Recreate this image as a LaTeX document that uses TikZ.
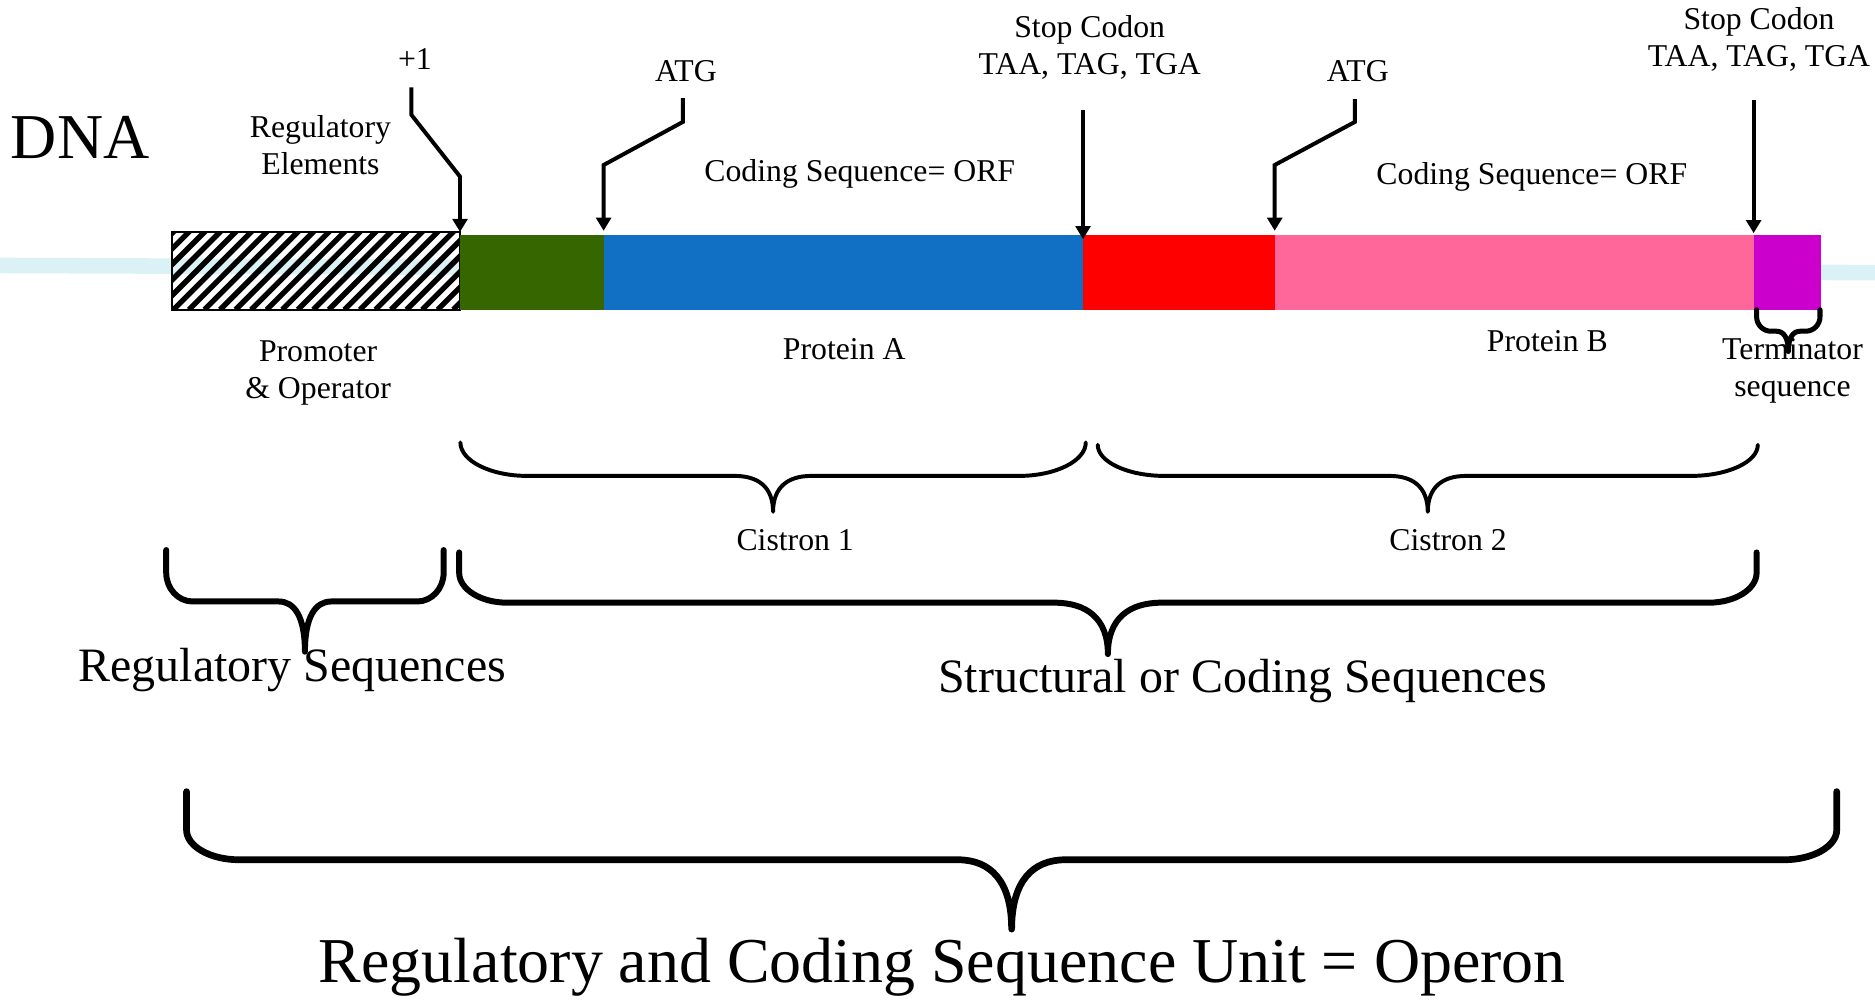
\documentclass[tikz,border=0pt]{standalone}
\usepackage{fontspec}
\setmainfont{Liberation Serif}
\usetikzlibrary{arrows.meta}

\definecolor{dnacyan}{RGB}{218,242,246}
\definecolor{leadgreen}{RGB}{53,102,0}
\definecolor{orfblue}{RGB}{17,112,196}
\definecolor{spacerred}{RGB}{255,0,0}
\definecolor{orfpink}{RGB}{255,102,153}
\definecolor{termmagenta}{RGB}{204,0,204}

\tikzset{
  lbl/.style={font=\fontsize{7.55pt}{8.8pt}\selectfont, inner sep=0pt, anchor=base, align=center},
  midlbl/.style={font=\fontsize{11.4pt}{13pt}\selectfont, inner sep=0pt, anchor=base},
  biglbl/.style={font=\fontsize{15.2pt}{18pt}\selectfont, inner sep=0pt, anchor=base},
  pointer/.style={line width=0.94pt, -{Triangle[length=3.1pt,width=3.5pt]}},
}

% curly brace: line width, x left, x right, y top, y bar, y tip, corner rx, corner ry, half width of the tip
\newcommand{\opbrace}[9]{%
  \pgfmathsetmacro{\bxc}{(#2+#3)/2}
  \pgfmathsetmacro{\bdp}{#6-#5}
  \draw[line width=#1, line cap=round, line join=round]
    (#2,#4) -- (#2,#5-#8) .. controls (#2,#5-0.45*#8) and (#2+0.45*#7,#5) .. (#2+#7,#5)
    -- (\bxc-#9,#5) .. controls (\bxc-0.4*#9,#5) and (\bxc,#5+0.3*\bdp) .. (\bxc,#6)
    .. controls (\bxc,#5+0.3*\bdp) and (\bxc+0.4*#9,#5) .. (\bxc+#9,#5)
    -- (#3-#7,#5) .. controls (#3-0.45*#7,#5) and (#3,#5-0.45*#8) .. (#3,#5-#8) -- (#3,#4);
}

\begin{document}
\begin{tikzpicture}[x=0.01cm, y=-0.01cm]
  \useasboundingbox (0,0) rectangle (1568,837);
  % DNA strand
  \draw[dnacyan, line width=0.13cm] (0,222) -- (1568,228);
  % Promoter box
  \begin{scope}
    \clip (143.8,194) rectangle (385,259);
    \foreach \i in {0,...,24}
      \draw[line width=0.045cm] (80+\i*13,259) -- ++(70,-70);
  \end{scope}
  \draw[line width=0.017cm] (143.8,194) rectangle (385,259);
  % Gene segments
  \foreach \xa/\xb/\c in {385/505/leadgreen, 505/906/orfblue, 906/1066/spacerred,
                          1066/1467/orfpink, 1467/1522.5/termmagenta}
    \fill[\c] (\xa,196.5) rectangle (\xb,259);
  \coordinate (start) at (384.7,194);
  \coordinate (atgA) at (504.8,193);
  \coordinate (stopA) at (905.7,200);
  \coordinate (atgB) at (1066,193);
  \coordinate (stopB) at (1466.5,195);
  % Labels above
  \node[biglbl] (dna) at (67,132.4) {DNA};
  \node[lbl] (plus) at (347,58.5) {+1};
  \node[lbl] (regel) at (268,146) {Regulatory\\Elements};
  \node[lbl] (atgAtxt) at (573.6,68.3) {ATG};
  \node[lbl] (orfA) at (719,152) {Coding Sequence= ORF};
  \node[lbl] (stopAtxt) at (911.3,62.7) {Stop Codon\\TAA, TAG, TGA};
  \node[lbl] (atgBtxt) at (1135.5,68.3) {ATG};
  \node[lbl] (orfB) at (1281,154.7) {Coding Sequence= ORF};
  \node[lbl] (stopBtxt) at (1471,55.8) {Stop Codon\\TAA, TAG, TGA};
  % Labels below
  \node[lbl] (prom) at (266,333) {Promoter\\\& Operator};
  \node[lbl] (protA) at (706,301) {Protein A};
  \node[lbl] (protB) at (1294,294) {Protein B};
  \node[lbl] (term) at (1499,331.7) {Terminator\\sequence};
  \node[lbl] (cisA) at (665,460) {Cistron 1};
  \node[lbl] (cisB) at (1211,460) {Cistron 2};
  \node[midlbl] (regseq) at (244.5,570) {Regulatory Sequences};
  \node[midlbl] (strseq) at (1039,579) {Structural or Coding Sequences};
  \node[biglbl] (operon) at (788,822) {Regulatory and Coding Sequence Unit = Operon};
  % Arrows
  \coordinate (plusT) at (344,73);
  \draw[pointer] (plusT) -- ++(0,23) -- ++(40.7,51.7) -- (start);
  \coordinate (atgAT) at (571,82);
  \draw[pointer] (atgAT) -- ++(0,20) -- ++(-66.2,36) -- (atgA);
  \coordinate (stopAT) at (905.7,92);
  \draw[pointer] (stopAT) -- (stopA);
  \coordinate (atgBT) at (1133,83);
  \draw[pointer] (atgBT) -- ++(0,19) -- ++(-67,36) -- (atgB);
  \coordinate (stopBT) at (1466.5,84);
  \draw[pointer] (stopBT) -- (stopB);
  % Braces
  \opbrace{0.042cm}{1469}{1522}{259}{277}{294}{12}{12}{10}
  \opbrace{0.033cm}{385}{908}{370}{398}{428}{56}{28}{32}
  \opbrace{0.033cm}{918}{1470}{372}{398}{428}{56}{26}{32}
  \opbrace{0.05cm}{139}{371}{460}{503}{545}{22}{24}{22}
  \opbrace{0.05cm}{384}{1469}{462}{504}{547}{40}{25}{45}
  \opbrace{0.056cm}{156}{1536}{662}{719}{777}{44}{25}{45}
\end{tikzpicture}
\end{document}
